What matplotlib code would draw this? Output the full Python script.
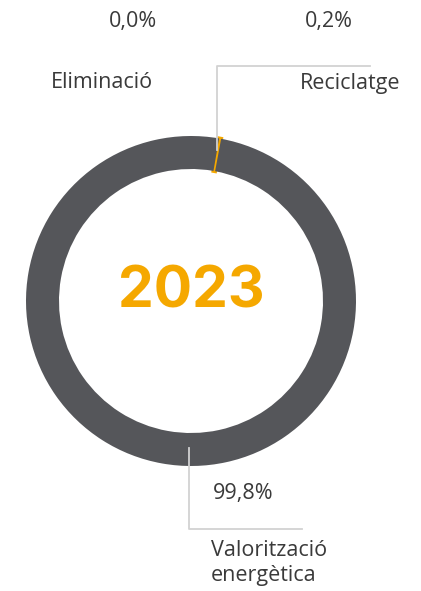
import matplotlib.pyplot as plt
from matplotlib.patches import Wedge

# data
labels = ["Eliminació", "Reciclatge", "Valorització\nenergètica"]
values = [0.0, 0.2, 99.8]
value_labels = ["0,0%", "0,2%", "99,8%"]
year = "2023"

colors = ["#9a9a9a", "#f5a800", "#55565a"]
text_color = "#3a3a3a"
line_color = "#d2d2d2"

plt.rcParams['font.family'] = ['Open Sans', 'DejaVu Sans']

W, H = 421, 591
fig = plt.figure(figsize=(W / 100, H / 100), dpi=100)
ax = fig.add_axes([0, 0, 1, 1])

# pixel-like coordinates, y measured from the top
def py(y):
    return H - y

cx, cy, R = 191, py(301), 165
ring = R * 0.2
wedges, _ = ax.pie(values, colors=colors, radius=R, center=(cx, cy),
                   startangle=80.2, counterclock=False,
                   wedgeprops=dict(width=ring, linewidth=0))
# the tiny recycling wedge gets an outline so it stays visible,
# clipped to the ring so it doesn't poke out
wedges[1].set_edgecolor(colors[1])
wedges[1].set_linewidth(2.8)
clip = Wedge((cx, cy), R, 0, 360, width=ring, transform=ax.transData)
wedges[1].set_clip_path(clip)

ax.set_xlim(0, W)
ax.set_ylim(0, H)
ax.set_aspect('auto')
ax.axis('off')

# leader lines
ax.plot([216.5, 216.5, 370], [py(150), py(66), py(66)], color=line_color, lw=1.3, zorder=5)
ax.plot([189, 189, 302], [py(448), py(529), py(529)], color=line_color, lw=1.3, zorder=5)

fs = 15.5
ax.text(133, py(22), value_labels[0], ha='center', va='center', fontsize=fs, color=text_color)
ax.text(102, py(82), labels[0], ha='center', va='center', fontsize=fs, color=text_color)
ax.text(329, py(22), value_labels[1], ha='center', va='center', fontsize=fs, color=text_color)
ax.text(350, py(84), labels[1], ha='center', va='center', fontsize=fs, color=text_color)
ax.text(243, py(493), value_labels[2], ha='center', va='center', fontsize=fs, color=text_color)
ax.text(211, py(563), labels[2], ha='left', va='center', fontsize=fs, color=text_color,
        linespacing=1.25)

ax.text(cx, py(293), year, ha='center', va='center', fontsize=41, fontweight='bold',
        color=colors[1], family=['Inter', 'DejaVu Sans'])

fig.savefig("out.png", dpi=100)
